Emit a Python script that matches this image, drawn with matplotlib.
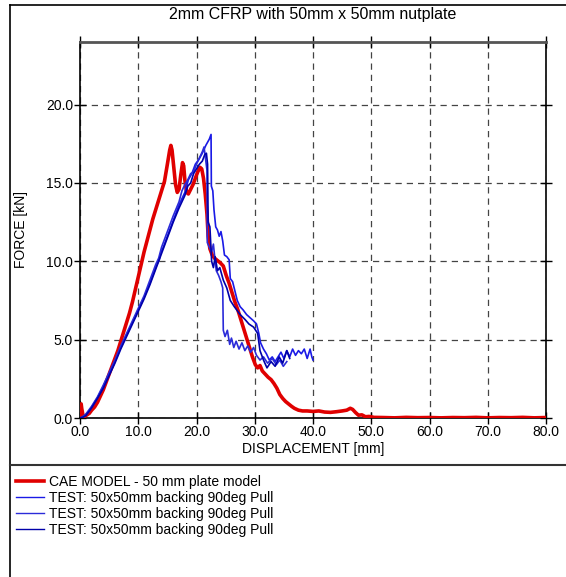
import matplotlib.pyplot as plt
from matplotlib.lines import Line2D

plt.rcParams['font.family'] = ['Liberation Sans', 'DejaVu Sans']

# CAE model curve (displacement mm, force kN)
cae_x = [0.0, 0.2, 0.3, 0.5, 0.8, 1.2, 1.6, 2.0, 2.5, 3.0,
         3.5, 4.0, 4.5, 5.0, 5.5, 6.0, 6.5, 7.0, 7.5, 8.0,
         8.5, 9.0, 9.5, 10.0, 10.5, 11.0, 11.5, 12.0, 12.5, 13.0,
         13.5, 14.0, 14.5, 15.0, 15.4, 15.6, 15.8, 16.1, 16.4, 16.7,
         17.0, 17.3, 17.6, 17.8, 18.0, 18.3, 18.6, 19.0, 19.4, 19.8,
         20.2, 20.6, 20.9, 21.2, 21.5, 21.8, 22.0, 22.3, 22.7, 23.1,
         23.6, 24.1, 24.6, 25.1, 25.6, 26.1, 26.6, 27.1, 27.6, 28.1,
         28.6, 29.1, 29.6, 30.1, 30.5, 30.9, 31.3, 31.8, 32.3, 32.8,
         33.3, 33.8, 34.3, 34.8, 35.3, 35.8, 36.3, 36.8, 37.5, 38.2,
         39.0, 40.0, 41.0, 42.0, 43.0, 44.0, 45.0, 45.8, 46.4, 46.8,
         47.3, 47.8, 48.4, 49.0, 49.6, 50.5, 52.0, 54.0, 56.0, 58.0,
         60.0, 62.0, 64.0, 66.0, 68.0, 70.0, 72.0, 74.0, 76.0, 78.0, 80.0]
cae_y = [0.0, 0.9, 0.6, 0.2, 0.1, 0.2, 0.3, 0.5, 0.7, 1.0,
         1.4, 1.8, 2.3, 2.8, 3.3, 3.8, 4.3, 4.9, 5.5, 6.1,
         6.7, 7.4, 8.2, 9.0, 9.8, 10.6, 11.3, 12.0, 12.7, 13.3,
         13.9, 14.5, 15.1, 16.2, 17.1, 17.4, 17.1, 16.0, 14.9, 14.4,
         14.6, 15.5, 16.3, 16.1, 15.2, 14.4, 14.3, 14.6, 14.9, 15.3,
         15.7, 16.0, 15.9, 15.3, 14.3, 13.0, 11.6, 10.8, 10.4, 10.2,
         10.05, 9.9, 9.7, 9.1, 8.6, 8.0, 7.4, 6.9, 6.3, 5.7,
         5.1, 4.5, 3.9, 3.4, 3.2, 3.35, 3.0, 2.8, 2.6, 2.45,
         2.2, 1.9, 1.5, 1.25, 1.05, 0.9, 0.75, 0.62, 0.5, 0.45,
         0.45, 0.42, 0.45, 0.38, 0.36, 0.4, 0.45, 0.5, 0.62, 0.55,
         0.35, 0.18, 0.2, 0.08, 0.1, 0.04, 0.03, 0.01, 0.04, 0.02,
         0.03, 0.01, 0.03, 0.02, 0.04, 0.01, 0.03, 0.02, 0.04, 0.01, 0.03]

# test 1
test1_x = [0.0, 0.5, 1.0, 1.5, 2.0, 3.0, 4.0, 5.0, 6.0, 7.0,
           8.0, 9.0, 10.0, 11.0, 12.0, 13.0, 13.6, 13.9, 14.3, 15.0,
           16.0, 17.0, 18.0, 18.6, 19.2, 19.8, 20.4, 21.0, 21.6, 22.2,
           22.5, 22.55, 22.8, 23.0, 23.3, 23.6, 23.9, 24.2, 24.5, 24.8,
           25.2, 25.6, 25.8, 26.2, 26.6, 27.0, 27.5, 28.0, 28.6, 29.2,
           29.8, 30.3, 30.7, 31.0, 31.5, 32.0, 32.5, 33.0, 33.5, 34.0,
           34.5, 35.0, 35.5, 36.0, 36.5, 37.0, 37.5, 38.0, 38.5, 39.0,
           39.5, 39.8, 40.0]
test1_y = [0.0, 0.05, 0.2, 0.4, 0.7, 1.3, 2.0, 2.8, 3.6, 4.5,
           5.3, 6.1, 6.9, 7.7, 8.6, 9.6, 10.1, 10.6, 10.9, 11.6,
           12.6, 13.6, 14.4, 15.2, 15.6, 16.2, 16.5, 16.9, 17.4, 17.8,
           18.1, 14.8, 14.5, 13.3, 12.2, 12.0, 11.6, 11.9, 11.3, 10.4,
           10.3, 10.1, 8.9, 8.7, 8.1, 7.5, 7.1, 6.9, 6.6, 6.4,
           6.2, 6.0, 5.4, 4.8, 4.4, 4.1, 3.7, 3.9, 3.6, 3.9,
           4.2, 3.8, 4.3, 3.9, 4.4, 4.0, 4.3, 4.1, 4.4, 3.8,
           4.4, 3.9, 3.7]

# test 2
test2_x = [0.0, 0.5, 1.0, 2.0, 3.0, 4.0, 5.0, 6.0, 7.0, 8.0,
           9.0, 10.0, 11.0, 12.0, 13.0, 13.5, 14.0, 14.4, 15.0, 16.0,
           17.0, 17.5, 18.0, 18.5, 19.0, 19.5, 20.0, 20.5, 21.0, 21.3,
           21.6, 21.8, 21.85, 22.2, 22.6, 22.9, 23.2, 23.4, 23.8, 24.2,
           24.5, 24.6, 24.9, 25.3, 25.7, 26.0, 26.4, 26.8, 27.3, 27.8,
           28.3, 28.8, 29.3, 29.8, 30.3, 30.9, 31.5, 32.2, 33.0, 33.7,
           34.3, 34.9, 35.5]
test2_y = [0.0, 0.1, 0.25, 0.75, 1.35, 2.1, 2.9, 3.7, 4.6, 5.4,
           6.2, 7.0, 7.8, 8.8, 9.8, 10.2, 10.9, 11.3, 11.9, 12.9,
           13.8, 14.5, 14.9, 15.2, 15.6, 15.7, 16.2, 16.6, 17.0, 17.3,
           16.4, 15.8, 11.2, 10.9, 10.6, 11.1, 10.0, 9.4, 9.1, 8.7,
           8.3, 5.6, 5.2, 5.6, 4.7, 5.1, 4.5, 4.9, 4.4, 4.8,
           4.3, 4.6, 4.2, 4.5, 4.0, 3.7, 3.9, 3.5, 3.8, 3.4,
           3.7, 3.3, 3.6]

# test 3
test3_x = [0.0, 0.5, 1.0, 2.0, 3.0, 4.0, 5.0, 6.0, 7.0, 8.0,
           9.0, 10.0, 11.0, 12.0, 13.0, 14.0, 15.0, 16.0, 17.0, 18.0,
           18.5, 19.0, 19.5, 20.0, 20.5, 21.0, 21.4, 21.7, 21.9, 22.0,
           22.3, 22.6, 22.9, 23.2, 23.6, 24.0, 24.6, 25.2, 25.8, 26.5,
           27.5, 28.3, 29.0, 29.8, 30.5, 30.9, 31.5, 32.1, 32.8, 33.5,
           34.2, 34.8, 35.5, 36.0]
test3_y = [0.0, 0.05, 0.15, 0.65, 1.25, 1.9, 2.7, 3.5, 4.4, 5.2,
           6.0, 6.8, 7.6, 8.5, 9.5, 10.5, 11.5, 12.5, 13.4, 14.2,
           14.8, 15.0, 15.6, 15.9, 16.2, 16.4, 16.8, 16.9, 16.2, 12.5,
           12.2, 10.0, 9.6, 10.3, 9.4, 9.6, 8.8, 8.3, 7.5, 7.1,
           6.6, 6.3, 6.0, 5.8, 5.4, 4.3, 3.7, 3.2, 3.6, 3.3,
           3.9, 3.5, 4.3, 3.8]

labels = ['CAE MODEL - 50 mm plate model',
          'TEST: 50x50mm backing 90deg Pull',
          'TEST: 50x50mm backing 90deg Pull',
          'TEST: 50x50mm backing 90deg Pull']

W, H = 566, 577
fig = plt.figure(figsize=(W / 100, H / 100), dpi=100)
ax = fig.add_axes([80 / W, 1 - 418 / H, 466 / W, 376 / H])

h1, = ax.plot(test1_x, test1_y, color='#1a1ae6', lw=1.2, zorder=3)
h2, = ax.plot(test2_x, test2_y, color='#2b2bd9', lw=1.2, zorder=3)
h3, = ax.plot(test3_x, test3_y, color='#0000aa', lw=1.2, zorder=3)
h0, = ax.plot(cae_x, cae_y, color='#e00000', lw=2.6, zorder=2.8)

ax.set_xlim(0, 80)
ax.set_ylim(0, 24)
ax.set_xticks(range(0, 81, 10))
ax.set_yticks(range(0, 21, 5))
ax.set_xticklabels(['%.1f' % v for v in range(0, 81, 10)])
ax.set_yticklabels(['%.1f' % v for v in range(0, 21, 5)])
ax.tick_params(direction='inout', length=8, width=1, top=True, right=True,
               labelsize=10, pad=1)
ax.grid(True, ls=(0, (5, 4)), color='#444444', lw=0.9)
for s in ax.spines.values():
    s.set_linewidth(1.2)
ax.spines['top'].set_color('#555555')
ax.spines['top'].set_linewidth(2)

ax.set_xlabel('DISPLACEMENT [mm]', fontsize=10, labelpad=2)
ax.set_ylabel('FORCE [kN]', fontsize=10, labelpad=13)
fig.text(313 / W, 1 - 15 / H, '2mm CFRP with 50mm x 50mm nutplate',
         ha='center', va='center', fontsize=11.5)

leg = fig.legend([h0, h1, h2, h3], labels, loc='upper left',
                 bbox_to_anchor=(16 / W, 1 - 475 / H), frameon=False,
                 fontsize=10, handlelength=2.0, handletextpad=0.4,
                 labelspacing=0.15, borderaxespad=0, borderpad=0)
for ln in leg.get_lines()[1:]:
    ln.set_linewidth(1.0)

# outer frame lines
fig.add_artist(Line2D([10 / W, 10 / W], [0, 1 - 5 / H], color='black', lw=1.2))
fig.add_artist(Line2D([10 / W, 1], [1 - 5 / H, 1 - 5 / H], color='black', lw=1.2))
fig.add_artist(Line2D([10 / W, 1], [1 - 465 / H, 1 - 465 / H], color='#333333', lw=1.5))

fig.savefig('out.png', dpi=100)
